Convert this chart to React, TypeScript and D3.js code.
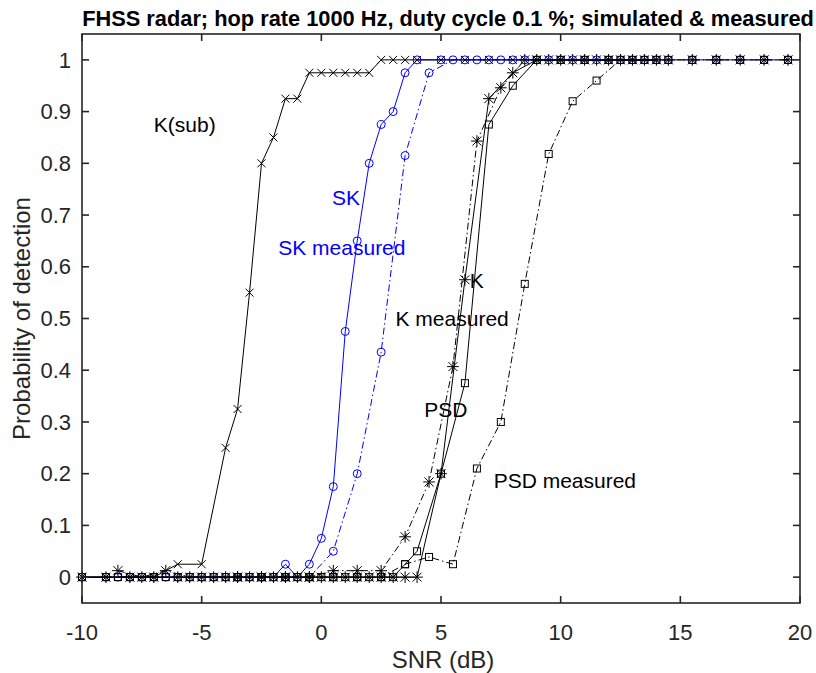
import React from "react";
import * as d3 from "d3";

// x grids
const simX = [-10, -9, -8, -7, -6, -5, -4, -3.5, -3, -2.5, -2, -1.5, -1, -0.5, 0, 0.5, 1, 1.5, 2, 2.5, 3, 3.5, 4, 5, 6, 7, 8, 9, 10, 11, 12, 13, 14];
const measX = [-8.5, -7.5, -6.5, -5.5, -4.5, -3.5, -2.5, -1.5, -0.5, 0.5, 1.5, 2.5, 3.5, 4.5, 5.5, 6.5, 7.5, 8.5, 9.5, 10.5, 11.5, 12.5, 13.5, 14.5, 15.5, 16.5, 17.5, 18.5, 19.5];

const kSub = [0, 0, 0, 0, 0.025, 0.025, 0.25, 0.325, 0.55, 0.8, 0.85, 0.925, 0.925, 0.975, 0.975, 0.975, 0.975, 0.975, 0.975, 1, 1, 1, 1, 1, 1, 1, 1, 1, 1, 1, 1, 1, 1];
const sk = [0, 0, 0, 0, 0, 0, 0, 0, 0, 0, 0, 0.025, 0, 0.025, 0.075, 0.175, 0.475, 0.65, 0.8, 0.875, 0.9, 0.975, 1, 1, 1, 1, 1, 1, 1, 1, 1, 1, 1];
const kSim = [0, 0, 0, 0, 0, 0, 0, 0, 0, 0, 0, 0, 0, 0, 0, 0, 0, 0, 0, 0, 0, 0, 0, 0.2, 0.575, 0.925, 0.975, 1, 1, 1, 1, 1, 1];
const psdSim = [0, 0, 0, 0, 0, 0, 0, 0, 0, 0, 0, 0, 0, 0, 0, 0, 0, 0, 0, 0, 0, 0.025, 0.05, 0.2, 0.375, 0.875, 0.95, 1, 1, 1, 1, 1, 1];

const skMeas = [0, 0, 0, 0, 0, 0, 0, 0, 0, 0.05, 0.2, 0.435, 0.815, 0.975, 1, 1, 1, 1, 1, 1, 1, 1, 1, 1, 1, 1, 1, 1, 1];
const kMeas = [0.0125, 0, 0.0125, 0, 0, 0, 0, 0, 0, 0.0125, 0.0125, 0.0125, 0.078, 0.184, 0.407, 0.843, 0.946, 1, 1, 1, 1, 1, 1, 1, 1, 1, 1, 1, 1];
const psdMeas = [0, 0, 0, 0, 0, 0, 0, 0, 0, 0, 0, 0, 0.025, 0.039, 0.025, 0.21, 0.3, 0.567, 0.818, 0.92, 0.96, 1, 1, 1, 1, 1, 1, 1, 1];

const xTicks = [-10, -5, 0, 5, 10, 15, 20];
const yTicks = [0, 0.1, 0.2, 0.3, 0.4, 0.5, 0.6, 0.7, 0.8, 0.9, 1];

const labels = [
  { text: "K(sub)", x: -7, y: 0.86, color: "#000" },
  { text: "SK", x: 0.45, y: 0.72, color: "#0000ff" },
  { text: "SK measured", x: -1.8, y: 0.623, color: "#0000ff" },
  { text: "K", x: 6.2, y: 0.559, color: "#000" },
  { text: "K measured", x: 3.1, y: 0.485, color: "#000" },
  { text: "PSD", x: 4.3, y: 0.31, color: "#000" },
  { text: "PSD measured", x: 7.2, y: 0.172, color: "#000" },
];

const FONT = "'Liberation Sans', Arial, Helvetica, sans-serif";

const margin = { left: 82, right: 15, top: 34, bottom: 71 };
const W = 816;
const H = 673;

type Mk = "x" | "o" | "*" | "s";

function Marker({ kind, cx, cy, color }: { kind: Mk; cx: number; cy: number; color: string }) {
  if (kind === "o") return <circle cx={cx} cy={cy} r={4} fill="none" stroke={color} strokeWidth={1} />;
  if (kind === "s") return <rect x={cx - 3.5} y={cy - 3.5} width={7} height={7} fill="none" stroke={color} strokeWidth={1} />;
  const a = kind === "*" ? 4.5 : 4;
  const d = `M${cx - a},${cy - a}L${cx + a},${cy + a}M${cx - a},${cy + a}L${cx + a},${cy - a}` +
    (kind === "*" ? `M${cx - a * 1.3},${cy}L${cx + a * 1.3},${cy}M${cx},${cy - a * 1.3}L${cx},${cy + a * 1.3}` : "");
  return <path d={d} stroke={color} strokeWidth={1} fill="none" />;
}

export default function App() {
  const x = d3.scaleLinear().domain([-10, 20]).range([margin.left, W - margin.right - 1]);
  const y = d3.scaleLinear().domain([-0.05, 1.05]).range([H - margin.bottom + 1, margin.top]);

  const series = [
    { xs: simX, ys: sk, color: "#0000ff", dash: "", mk: "o" as Mk },
    { xs: measX, ys: skMeas, color: "#0000ff", dash: "7,3,1.5,3", mk: "o" as Mk },
    { xs: simX, ys: kSub, color: "#000", dash: "", mk: "x" as Mk },
    { xs: simX, ys: kSim, color: "#000", dash: "", mk: "*" as Mk },
    { xs: measX, ys: kMeas, color: "#000", dash: "7,3,1.5,3", mk: "*" as Mk },
    { xs: simX, ys: psdSim, color: "#000", dash: "", mk: "s" as Mk },
    { xs: measX, ys: psdMeas, color: "#000", dash: "7,3,1.5,3", mk: "s" as Mk },
  ];

  const line = d3.line<[number, number]>().x((d) => x(d[0])).y((d) => y(d[1]));
  const x0 = x(-10), x1 = x(20), yTop = y(1.05), yBot = y(-0.05);

  return (
    <svg width={W} height={H} style={{ position: "absolute", left: 0, top: 0, background: "#fff" }} fontFamily={FONT}>
      <rect width={W} height={H} fill="#fff" />
      <text x={448} y={26} textAnchor="middle" fontWeight="bold" fontSize={21.8}>
        FHSS radar; hop rate 1000 Hz, duty cycle 0.1 %; simulated &amp; measured
      </text>

      {series.map((s, i) => {
        const pts = s.xs.map((v, j) => [v, s.ys[j]] as [number, number]);
        return (
          <g key={i}>
            <path d={line(pts) || ""} fill="none" stroke={s.color} strokeWidth={1} strokeDasharray={s.dash || undefined} />
            {pts.map((p, j) => (
              <Marker key={j} kind={s.mk} cx={x(p[0])} cy={y(p[1])} color={s.color} />
            ))}
          </g>
        );
      })}

      {labels.map((l, i) => (
        <text key={i} x={x(l.x)} y={y(l.y)} fill={l.color} fontSize={21}>
          {l.text}
        </text>
      ))}

      {/* axes box */}
      <rect x={x0} y={yTop} width={x1 - x0} height={yBot - yTop} fill="none" stroke="#262626" strokeWidth={1.6} />
      {xTicks.map((t) => (
        <g key={t}>
          <line x1={x(t)} x2={x(t)} y1={yBot} y2={yBot - 7} stroke="#262626" strokeWidth={1.6} />
          <line x1={x(t)} x2={x(t)} y1={yTop} y2={yTop + 7} stroke="#262626" strokeWidth={1.6} />
          <text x={x(t)} y={640} textAnchor="middle" fontSize={22} fill="#262626">{t}</text>
        </g>
      ))}
      {yTicks.map((t) => (
        <g key={t}>
          <line x1={x0} x2={x0 + 7} y1={y(t)} y2={y(t)} stroke="#262626" strokeWidth={1.6} />
          <line x1={x1} x2={x1 - 7} y1={y(t)} y2={y(t)} stroke="#262626" strokeWidth={1.6} />
          <text x={71} y={y(t)} dy="0.35em" textAnchor="end" fontSize={22} fill="#262626">{t}</text>
        </g>
      ))}
      <text x={443} y={668} textAnchor="middle" fontSize={24} fill="#262626">SNR (dB)</text>
      <text transform={`translate(30,${(yTop + yBot) / 2}) rotate(-90)`} textAnchor="middle" fontSize={24} fill="#262626">
        Probability of detection
      </text>
    </svg>
  );
}
